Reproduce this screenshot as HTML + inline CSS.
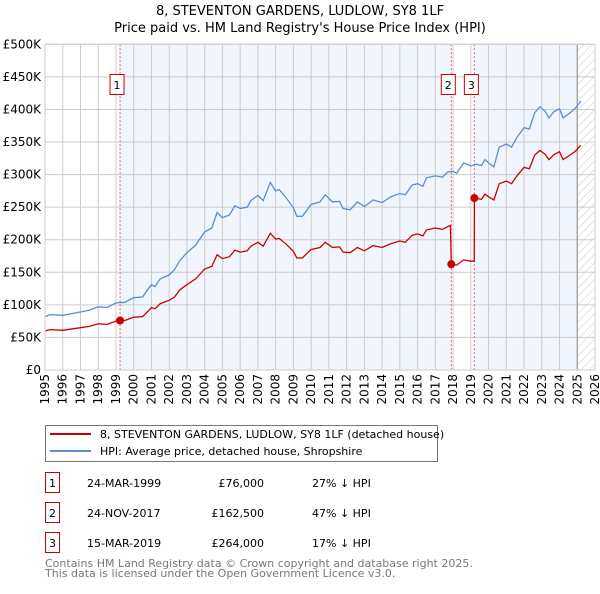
<!DOCTYPE html>
<html><head><meta charset="utf-8">
<style>
body{margin:0;background:#fff;font-family:"DejaVu Sans","Liberation Sans",sans-serif;}
svg text{font-family:"DejaVu Sans","Liberation Sans",sans-serif;}
</style></head>
<body>
<svg id="chart" width="600" height="590" viewBox="0 0 600 590" xmlns="http://www.w3.org/2000/svg">
<defs>
<pattern id="hatch" width="6" height="6" patternUnits="userSpaceOnUse" patternTransform="rotate(45)">
<line x1="0" y1="0" x2="0" y2="6" stroke="#bbb" stroke-width="0.8"/>
</pattern>
</defs>
<text x="300" y="15" text-anchor="middle" font-size="13">8, STEVENTON GARDENS, LUDLOW, SY8 1LF</text>
<text x="300" y="32" text-anchor="middle" font-size="13">Price paid vs. HM Land Registry's House Price Index (HPI)</text>
<g id="plot"></g>
<g>
<rect x="45.5" y="425.5" width="392" height="36" fill="#fff" stroke="#777"/>
<line x1="50" y1="434" x2="91" y2="434" stroke="#cc0000" stroke-width="2"/>
<text x="100" y="438" font-size="11">8, STEVENTON GARDENS, LUDLOW, SY8 1LF (detached house)</text>
<line x1="50" y1="451" x2="91" y2="451" stroke="#5b8fd0" stroke-width="2"/>
<text x="100" y="455" font-size="11">HPI: Average price, detached house, Shropshire</text>
</g>
<g id="table" font-size="11"></g>
<text x="45" y="567" font-size="11" fill="#777">Contains HM Land Registry data © Crown copyright and database right 2025.</text>
<text x="45" y="577" font-size="11" fill="#777">This data is licensed under the Open Government Licence v3.0.</text>
</svg>
<script>
const hpiDates=[1995.0,1995.3,1996.0,1997.0,1997.5,1998.0,1998.5,1999.0,1999.5,2000.0,2000.5,2000.8,2001.0,2001.2,2001.5,2002.0,2002.3,2002.6,2003.0,2003.5,2004.0,2004.4,2004.7,2005.0,2005.4,2005.7,2006.0,2006.4,2006.6,2007.0,2007.3,2007.7,2008.0,2008.2,2008.6,2009.0,2009.2,2009.5,2010.0,2010.5,2010.8,2011.2,2011.6,2011.8,2012.2,2012.6,2013.0,2013.5,2014.0,2014.5,2015.0,2015.3,2015.7,2016.0,2016.3,2016.5,2017.0,2017.4,2017.7,2018.0,2018.2,2018.6,2019.0,2019.3,2019.6,2019.8,2020.0,2020.3,2020.6,2021.0,2021.3,2021.6,2022.0,2022.3,2022.6,2022.9,2023.2,2023.4,2023.7,2024.0,2024.2,2024.6,2024.9,2025.2];
const hpiValues=[82,85,84,89,92,97,96,103,104,111,112,124,131,128,140,146,154,168,180,192,212,218,242,234,238,252,248,250,260,268,260,288,275,277,264,249,236,236,254,258,269,258,259,248,246,258,251,261,257,266,271,269,284,286,282,295,298,296,304,305,302,318,313,316,314,323,318,312,342,347,342,357,372,370,395,404,397,387,397,401,387,395,402,413];
const priceDates=[1995.0,1995.3,1996.0,1997.0,1997.5,1998.0,1998.5,1999.0,1999.23,1999.5,2000.0,2000.5,2000.8,2001.0,2001.2,2001.5,2002.0,2002.3,2002.6,2003.0,2003.5,2004.0,2004.4,2004.7,2005.0,2005.4,2005.7,2006.0,2006.4,2006.6,2007.0,2007.3,2007.7,2008.0,2008.2,2008.6,2009.0,2009.2,2009.5,2010.0,2010.5,2010.8,2011.2,2011.6,2011.8,2012.2,2012.6,2013.0,2013.5,2014.0,2014.5,2015.0,2015.3,2015.7,2016.0,2016.3,2016.5,2017.0,2017.4,2017.85,2017.9,2018.2,2018.6,2019.0,2019.19,2019.2,2019.6,2019.8,2020.0,2020.3,2020.6,2021.0,2021.3,2021.6,2022.0,2022.3,2022.6,2022.9,2023.2,2023.4,2023.7,2024.0,2024.2,2024.6,2024.9,2025.2];
const priceValues=[60,62,61,65,67,71,70,75,76,76,81,82,90,96,94,102,107,112,123,131,140,155,159,177,171,174,184,181,183,190,196,190,210,201,202,193,182,172,172,185,188,196,188,189,181,180,188,183,191,188,194,198,196,207,209,206,215,218,216,222,162.5,161,169,167,167,264,262,270,266,261,286,290,286,298,311,309,330,337,331,323,331,335,323,330,336,345];
const saleLabels=["1","2","3"];
const saleDates=[1999.23,2017.9,2019.2];
const salePrices=[76,162.5,264];
const saleDateText=["24-MAR-1999","24-NOV-2017","15-MAR-2019"];
const salePriceText=["£76,000","£162,500","£264,000"];
const saleHpiText=["27% ↓ HPI","47% ↓ HPI","17% ↓ HPI"];
const yTicks=[0,50,100,150,200,250,300,350,400,450,500];
const yTickLabels=["£0","£50K","£100K","£150K","£200K","£250K","£300K","£350K","£400K","£450K","£500K"];
const xYears=[1995,1996,1997,1998,1999,2000,2001,2002,2003,2004,2005,2006,2007,2008,2009,2010,2011,2012,2013,2014,2015,2016,2017,2018,2019,2020,2021,2022,2023,2024,2025,2026];
const dataEnd=2025.0;

const NS="http://www.w3.org/2000/svg";
const L=45,R=595,T=44.3,B=370;
const xs=y=>L+(y-1995)*(R-L)/31;
const ys=v=>B-v*(B-T)/500;
const plot=document.getElementById('plot');
function mk(tag,attrs,parent){const e=document.createElementNS(NS,tag);for(const k in attrs)e.setAttribute(k,attrs[k]);(parent||plot).appendChild(e);return e;}

let e;
e=mk('rect',{x:xs(saleDates[0]),y:T,width:xs(saleDates[1])-xs(saleDates[0]),height:B-T,fill:'#f1f5fd'});


e=mk('rect',{x:xs(saleDates[2]),y:T,width:xs(dataEnd)-xs(saleDates[2]),height:B-T,fill:'#f1f5fd'});


e=mk('rect',{x:xs(dataEnd),y:T,width:R-xs(dataEnd),height:B-T,fill:'url(#hatch)'});



yTicks.forEach((v,i)=>{
  e=mk('line',{x1:L,x2:R,y1:ys(v),y2:ys(v),stroke:'#ccc','stroke-width':1});
  
  
  e=mk('text',{x:L-4,y:ys(v)+4,'text-anchor':'end','font-size':12});
  e.textContent=yTickLabels[i];
  
  
});
xYears.forEach(yr=>{
  e=mk('line',{x1:xs(yr),x2:xs(yr),y1:T,y2:B,stroke:'#ccc','stroke-width':1});
  
  
  const x=xs(yr)+4;
  e=mk('text',{x:x,y:B+4,'text-anchor':'end','font-size':12,transform:`rotate(-90 ${x} ${B+4})`});
  e.textContent=yr;
  
  
});
e=mk('line',{x1:xs(dataEnd),x2:xs(dataEnd),y1:T,y2:B,stroke:'#999','stroke-width':1.2});



saleDates.forEach((d,i)=>{
  e=mk('line',{x1:xs(d),x2:xs(d),y1:T,y2:B,stroke:'#e06060','stroke-width':1,'stroke-dasharray':'2,2'});
  
  
});

function pts(ds,vs){return ds.map((d,i)=>xs(d).toFixed(1)+','+ys(vs[i]).toFixed(1)).join(' ');}
e=mk('polyline',{points:pts(hpiDates,hpiValues),fill:'none',stroke:'#5b8fd0','stroke-width':1.3});


e=mk('polyline',{points:pts(priceDates,priceValues),fill:'none',stroke:'#cc0000','stroke-width':1.3});



saleDates.forEach((d,i)=>{
  e=mk('circle',{cx:xs(d),cy:ys(salePrices[i]),r:4,fill:'#cc0000'});
  
  
  const bx=xs(d)-3;
  e=mk('rect',{x:bx-7,y:74.5,width:14,height:20,fill:'#fff',stroke:'#cc0000','stroke-width':1});
  
  
  e=mk('text',{x:bx,y:89,'text-anchor':'middle','font-size':11});
  e.textContent=saleLabels[i];
  
  
});
e=mk('rect',{x:L,y:T,width:R-L,height:B-T,fill:'none',stroke:'#ccc','stroke-width':1});



const tbl=document.getElementById('table');
saleLabels.forEach((lab,i)=>{
  const cy=483+i*30;
  e=mk('rect',{x:45.5,y:cy-10.5,width:14,height:20,fill:'#fff',stroke:'#cc0000'},tbl);
  
  
  e=mk('text',{x:52.5,y:cy+4,'text-anchor':'middle'},tbl);e.textContent=lab;
  
  
  e=mk('text',{x:87,y:cy+4},tbl);e.textContent=saleDateText[i];
  
  
  e=mk('text',{x:264,y:cy+4,'text-anchor':'end'},tbl);e.textContent=salePriceText[i];
  
  
  e=mk('text',{x:312,y:cy+4},tbl);e.textContent=saleHpiText[i];
  
  
});
</script>
</body></html>
